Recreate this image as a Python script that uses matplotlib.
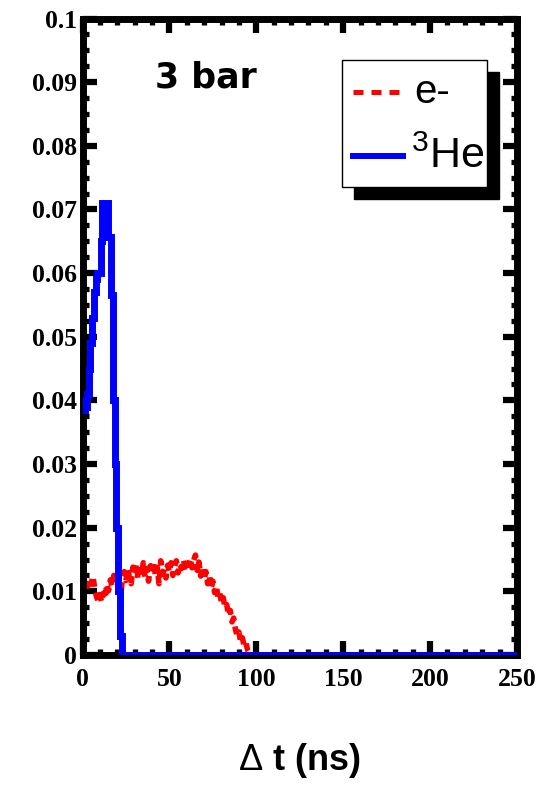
import matplotlib
matplotlib.use("Agg")
import matplotlib.pyplot as plt
from matplotlib.patches import Rectangle
from matplotlib.lines import Line2D
from matplotlib.ticker import MultipleLocator, FixedLocator, FixedFormatter

# ---- datos ----
# 3He (azul), bins de 1 ns
he_t = [0, 1, 2, 3, 4, 5, 6, 7, 8, 9, 10, 11, 12, 13, 14, 15, 16, 17, 18,
        19, 20, 21, 22, 23, 24, 250]
he_y = [0.0400, 0.0385, 0.0390, 0.0410, 0.0450, 0.0490, 0.0530, 0.0570,
        0.0590, 0.0600, 0.0600, 0.0650, 0.0710, 0.0710, 0.0710, 0.0657,
        0.0657, 0.0565, 0.0400, 0.0300, 0.0200, 0.0100, 0.0030, 0.0, 0.0, 0.0]

# electrones (rojo), bins de 1 ns
e_t = list(range(0, 98))
e_y = [0.0098, 0.0102, 0.0115, 0.0108, 0.0121, 0.0112, 0.0124, 0.0105,
       0.0092, 0.0085, 0.0095, 0.0083, 0.0097, 0.0088, 0.0112, 0.0101,
       0.0118, 0.0108, 0.0125, 0.0113, 0.0128, 0.0119, 0.0090, 0.0122,
       0.0131, 0.0117, 0.0136, 0.0121, 0.0112, 0.0138, 0.0125, 0.0142,
       0.0119, 0.0134, 0.0127, 0.0145, 0.0122, 0.0136, 0.0116, 0.0140,
       0.0128, 0.0146, 0.0124, 0.0138, 0.0112, 0.0148, 0.0127, 0.0135,
       0.0121, 0.0141, 0.0130, 0.0145, 0.0125, 0.0139, 0.0148, 0.0129,
       0.0143, 0.0136, 0.0150, 0.0138, 0.0147, 0.0141, 0.0152, 0.0137,
       0.0149, 0.0157, 0.0133, 0.0146, 0.0124, 0.0139, 0.0118, 0.0131,
       0.0112, 0.0125, 0.0104, 0.0116, 0.0098, 0.0109, 0.0090, 0.0097,
       0.0082, 0.0090, 0.0074, 0.0079, 0.0062, 0.0070, 0.0052, 0.0058,
       0.0040, 0.0030, 0.0036, 0.0020, 0.0027, 0.0014, 0.0019, 0.0008,
       0.0004, 0.0]

x_ticks = [0, 50, 100, 150, 200, 250]
y_ticks = [0, 0.01, 0.02, 0.03, 0.04, 0.05, 0.06, 0.07, 0.08, 0.09, 0.1]
y_labels = ["0", "0.01", "0.02", "0.03", "0.04", "0.05", "0.06", "0.07",
            "0.08", "0.09", "0.1"]

plt.rcParams["mathtext.fontset"] = "custom"
plt.rcParams["mathtext.rm"] = "Liberation Sans"

fig = plt.figure(figsize=(5.51, 7.86), dpi=100)
ax = fig.add_axes([82.5 / 551, 1 - 655 / 786, 434.5 / 551, 636.5 / 786])

ax.plot(e_t, e_y, color="red", lw=4.0, dashes=(1.4, 1.1), zorder=2)
ax.plot(he_t, he_y, color="blue", lw=5.0, drawstyle="steps-mid", zorder=3,
        solid_joinstyle="miter")

ax.set_xlim(0, 250)
ax.set_ylim(0, 0.1)

ax.xaxis.set_major_locator(FixedLocator(x_ticks))
ax.xaxis.set_minor_locator(MultipleLocator(10))
ax.yaxis.set_major_locator(FixedLocator(y_ticks))
ax.yaxis.set_major_formatter(FixedFormatter(y_labels))
ax.yaxis.set_minor_locator(MultipleLocator(0.0025))

for s in ax.spines.values():
    s.set_linewidth(5)
ax.tick_params(which="both", direction="in", top=True, right=True, color="black")
ax.tick_params(which="major", length=10, width=4.5)
ax.tick_params(which="minor", length=4.5, width=3.8)
for lab in ax.get_xticklabels() + ax.get_yticklabels():
    lab.set_fontfamily("Liberation Serif")
    lab.set_fontweight("bold")
    lab.set_fontsize(18.5)
ax.tick_params(axis="y", pad=4)
ax.tick_params(axis="x", pad=9)

ax.set_xlabel(r"$\Delta$ t (ns)", fontfamily="Liberation Sans", fontweight="bold",
              fontsize=26, labelpad=36)

ax.text((155 - 82.5) / 434.5, (655 - 88) / 636.5, "3 bar", transform=ax.transAxes,
        fontfamily="DejaVu Sans", fontweight="bold", fontsize=25, va="baseline")

# leyenda dibujada a mano (caja con sombra negra)
bx0, bx1 = (342 - 82.5) / 434.5, (487 - 82.5) / 434.5
by0, by1 = (655 - 187) / 636.5, (655 - 60) / 636.5
dx, dy = 12 / 434.5, 12 / 636.5
ax.add_patch(Rectangle((bx0 + dx, by0 - dy), bx1 - bx0, by1 - by0, transform=ax.transAxes,
                       facecolor="black", edgecolor="black", zorder=5, clip_on=False))
ax.add_patch(Rectangle((bx0, by0), bx1 - bx0, by1 - by0, transform=ax.transAxes,
                       facecolor="white", edgecolor="black", lw=1, zorder=6, clip_on=False))
lx0, lx1 = (353 - 82.5) / 434.5, (403 - 82.5) / 434.5
ax.add_line(Line2D([lx0, lx1], [(655 - 92) / 636.5] * 2, transform=ax.transAxes,
                   color="red", lw=3.6, dashes=(2.0, 1.6), zorder=7))
ax.add_line(Line2D([lx0, lx1], [(655 - 156) / 636.5] * 2, transform=ax.transAxes,
                   color="blue", lw=4.3, zorder=7))
ax.text((414 - 82.5) / 434.5, (655 - 92) / 636.5, "e-", transform=ax.transAxes,
        fontfamily="Liberation Sans", fontsize=29, va="center", zorder=8)
ax.text((411 - 82.5) / 434.5, (655 - 168) / 636.5, r"$^{3}$He", transform=ax.transAxes,
        fontfamily="Liberation Sans", fontsize=31, va="baseline", zorder=8)

fig.savefig("out.png", dpi=100)
